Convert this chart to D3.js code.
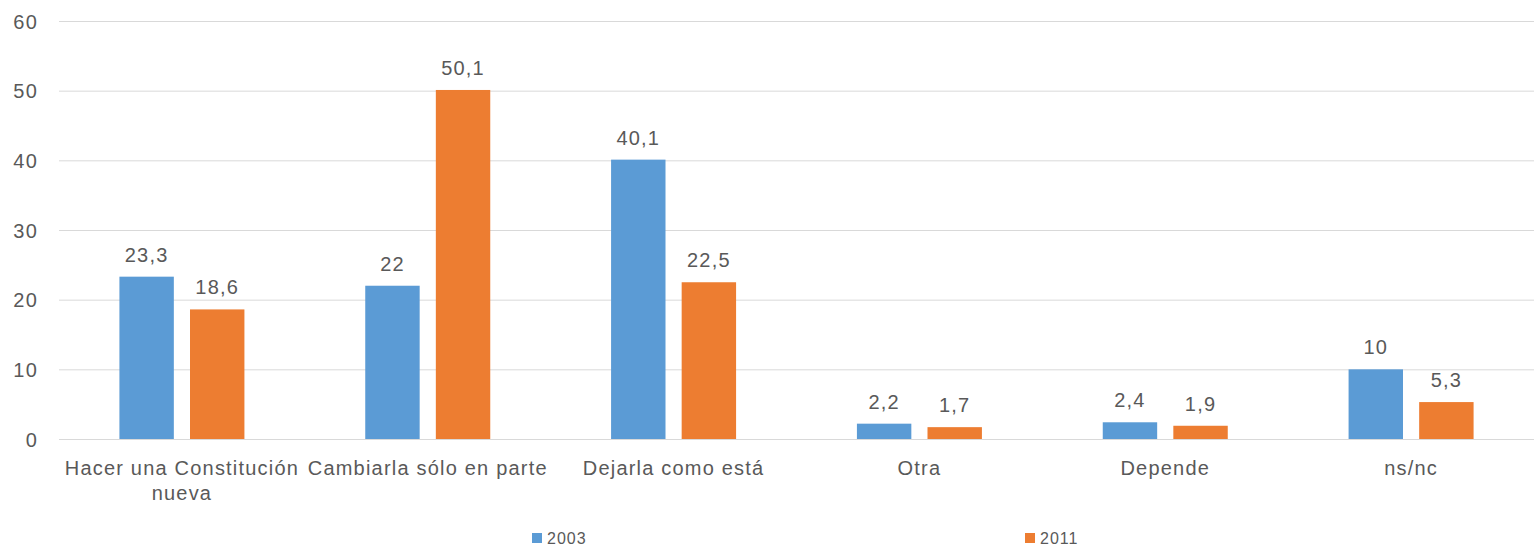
<!DOCTYPE html>
<html>
<head>
<meta charset="utf-8">
<script src="https://cdn.jsdelivr.net/npm/d3@7"></script>
<style>
  body { margin: 0; background: #fff; }
  svg text { font-family: "Liberation Sans", Arial, sans-serif; fill: #595959; letter-spacing: 1.2px; }
</style>
</head>
<body>
<svg id="chart"></svg>
<script>
// grouped bars, 2003 vs 2011

var categories = ['Hacer una Constitución nueva', 'Cambiarla sólo en parte', 'Dejarla como está', 'Otra', 'Depende', 'ns/nc']
var series = ['2003', '2011']
var values2003 = [23.3, 22, 40.1, 2.2, 2.4, 10]
var values2011 = [18.6, 50.1, 22.5, 1.7, 1.9, 5.3]
var yTicks = [0, 10, 20, 30, 40, 50, 60]

var colors = { '2003': '#5b9bd5', '2011': '#ed7d31' }

var width = 1536,
    height = 546;

var svg = d3.select('#chart')
    .attr('width', width)
    .attr('height', height)

var rows = categories.map(function(c, i) {
    return { cat: c, vals: [{ s: '2003', v: values2003[i] }, { s: '2011', v: values2011[i] }] }
})

var xScale = d3.scaleBand()
    .domain(categories)
    .range([59, 1534])

var groupWidth = 125
var x1 = d3.scaleBand()
    .domain(series)
    .range([0, groupWidth])
    .paddingInner(0.229)

var yScale = d3.scaleLinear()
    .domain([0, 60])
    .range([439, 21])

// gridlines + y labels
var yAxis = d3.axisLeft(yScale)
    .tickValues(yTicks)
    .tickSize(-(1534 - 59))
    .tickPadding(21)
    .tickFormat(d3.format('d'))

var yg = svg.append('g')
    .attr('transform', 'translate(59,0)')
    .call(yAxis)

yg.select('.domain').remove()
yg.selectAll('.tick line').attr('stroke', '#d9d9d9').attr('stroke-width', 1)
yg.selectAll('.tick text')
    .attr('font-size', 20)
    .attr('dy', '0.36em')

// bars
var groups = svg.selectAll('.grp')
    .data(rows)
    .enter()
    .append('g')
    .attr('class', 'grp')
    .attr('transform', function(d) {
        return 'translate(' + (xScale(d.cat) + (xScale.bandwidth() - groupWidth) / 2) + ',0)'
    })

groups.selectAll('rect')
    .data(function(d) { return d.vals })
    .enter()
    .append('rect')
    .attr('x', function(d) { return x1(d.s) })
    .attr('y', function(d) { return yScale(d.v) })
    .attr('width', x1.bandwidth())
    .attr('height', function(d) { return yScale(0) - yScale(d.v) })
    .attr('fill', function(d) { return colors[d.s] })

groups.selectAll('.val')
    .data(function(d) { return d.vals })
    .enter()
    .append('text')
    .attr('class', 'val')
    .attr('x', function(d) { return x1(d.s) + x1.bandwidth() / 2 })
    .attr('y', function(d) { return yScale(d.v) - 15 })
    .attr('text-anchor', 'middle')
    .attr('font-size', 20)
    .text(function(d) { return String(d.v).replace('.', ',') })

// category labels, wrapped to the band width
var xg = svg.append('g')
var labels = xg.selectAll('text')
    .data(categories)
    .enter()
    .append('text')
    .attr('x', function(d) { return xScale(d) + xScale.bandwidth() / 2 })
    .attr('y', 475)
    .attr('text-anchor', 'middle')
    .attr('font-size', 20)

labels.each(function(d) {
    var t = d3.select(this),
        words = d.split(' '),
        line = [],
        lineNo = 0,
        x = t.attr('x'),
        ts = t.append('tspan').attr('x', x).attr('dy', 0)
    words.forEach(function(w) {
        line.push(w)
        ts.text(line.join(' '))
        if (ts.node().getComputedTextLength() > xScale.bandwidth() && line.length > 1) {
            line.pop()
            ts.text(line.join(' '))
            line = [w]
            lineNo++
            ts = t.append('tspan').attr('x', x).attr('dy', 25).text(w)
        }
    })
})

// legend
var legendX = { '2003': 532, '2011': 1025 }
var leg = svg.selectAll('.leg')
    .data(series)
    .enter()
    .append('g')
    .attr('class', 'leg')
    .attr('transform', function(d) { return 'translate(' + legendX[d] + ',533)' })

leg.append('rect')
    .attr('width', 10)
    .attr('height', 10)
    .attr('fill', function(d) { return colors[d] })

leg.append('text')
    .attr('x', 15)
    .attr('y', 11)
    .attr('font-size', 16)
    .style('letter-spacing', '1px')
    .text(function(d) { return d })
</script>
</body>
</html>
